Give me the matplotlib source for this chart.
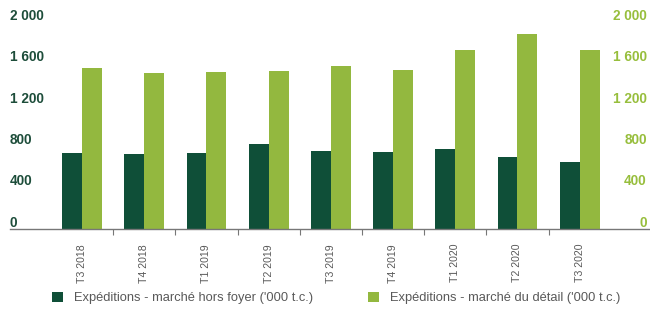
import matplotlib
matplotlib.use("Agg")
import matplotlib.pyplot as plt
from matplotlib import font_manager
from matplotlib.patches import Patch
import matplotlib.transforms as mtransforms

quarters = ["T3 2018", "T4 2018", "T1 2019", "T2 2019", "T3 2019",
            "T4 2019", "T1 2020", "T2 2020", "T3 2020"]
hors_foyer = [730, 723, 730, 817, 752, 742, 769, 691, 649]
detail = [1555, 1504, 1517, 1530, 1572, 1536, 1730, 1882, 1730]
yticks = [0, 400, 800, 1200, 1600, 2000]
legend_labels = ["Expéditions - marché hors foyer ('000 t.c.)",
                 "Expéditions - marché du détail ('000 t.c.)"]

DARK = "#0f4f38"
LIGHT = "#93b83f"
GREY = "#595959"

# narrow font if there is one, else plain Liberation Sans a bit smaller
try:
    font_manager.findfont(font_manager.FontProperties(family="Liberation Sans Narrow"),
                          fallback_to_default=False)
    narrow = "Liberation Sans Narrow"
    small_size, leg_size = 9, 10
except Exception:
    narrow = "Liberation Sans"
    small_size, leg_size = 7.6, 9.3

plt.rcParams["font.family"] = ["Liberation Sans", "DejaVu Sans"]

fig = plt.figure(figsize=(6.5, 3.09), dpi=100)
ax = fig.add_axes([10 / 650, 80.3 / 309, 640 / 650, 217 / 309])

x = list(range(len(quarters)))
w = 0.32
ax.bar([i - w / 2 for i in x], hors_foyer, width=w, color=DARK)
ax.bar([i + w / 2 for i in x], detail, width=w, color=LIGHT)

ax.set_xlim(-1.158, 9.13)
ax.set_ylim(0, 2100)

for s in ["top", "left", "right"]:
    ax.spines[s].set_visible(False)
ax.spines["bottom"].set_color("#777777")
ax.spines["bottom"].set_linewidth(1)

ax.set_xticks(x)
ax.set_xticklabels(quarters, rotation=90, fontsize=small_size, color=GREY,
                   family=narrow)
ax.tick_params(axis="x", which="major", length=0, pad=11)
ax.set_xticks([i + 0.5 for i in x[:-1]], minor=True)
ax.tick_params(axis="x", which="minor", length=4, width=0.8, color="#777777",
               direction="out")
ax.set_yticks([])

shift = mtransforms.offset_copy(ax.get_yaxis_transform(), fig=fig, y=6, units="dots")
for v in yticks:
    lab = "{:,}".format(v).replace(",", " ")
    ax.text(0, v, lab, transform=shift, ha="left", va="center",
            fontsize=9.8, fontweight="bold", color="#1d4d3a")
    ax.text(0.995, v, lab, transform=shift, ha="right", va="center",
            fontsize=9.8, fontweight="bold", color="#97be3c")

em = leg_size * 100 / 72
handles = [Patch(facecolor=DARK), Patch(facecolor=LIGHT)]
fig.legend(handles, legend_labels, ncol=2, loc="center left",
           bbox_to_anchor=(52 / 650, 11 / 309), frameon=False,
           prop={"family": narrow, "size": leg_size}, labelcolor=GREY,
           handlelength=11 / em, handleheight=11 / em, handletextpad=11 / em,
           columnspacing=55 / em, borderpad=0, borderaxespad=0)

fig.savefig("out.png", dpi=100)
